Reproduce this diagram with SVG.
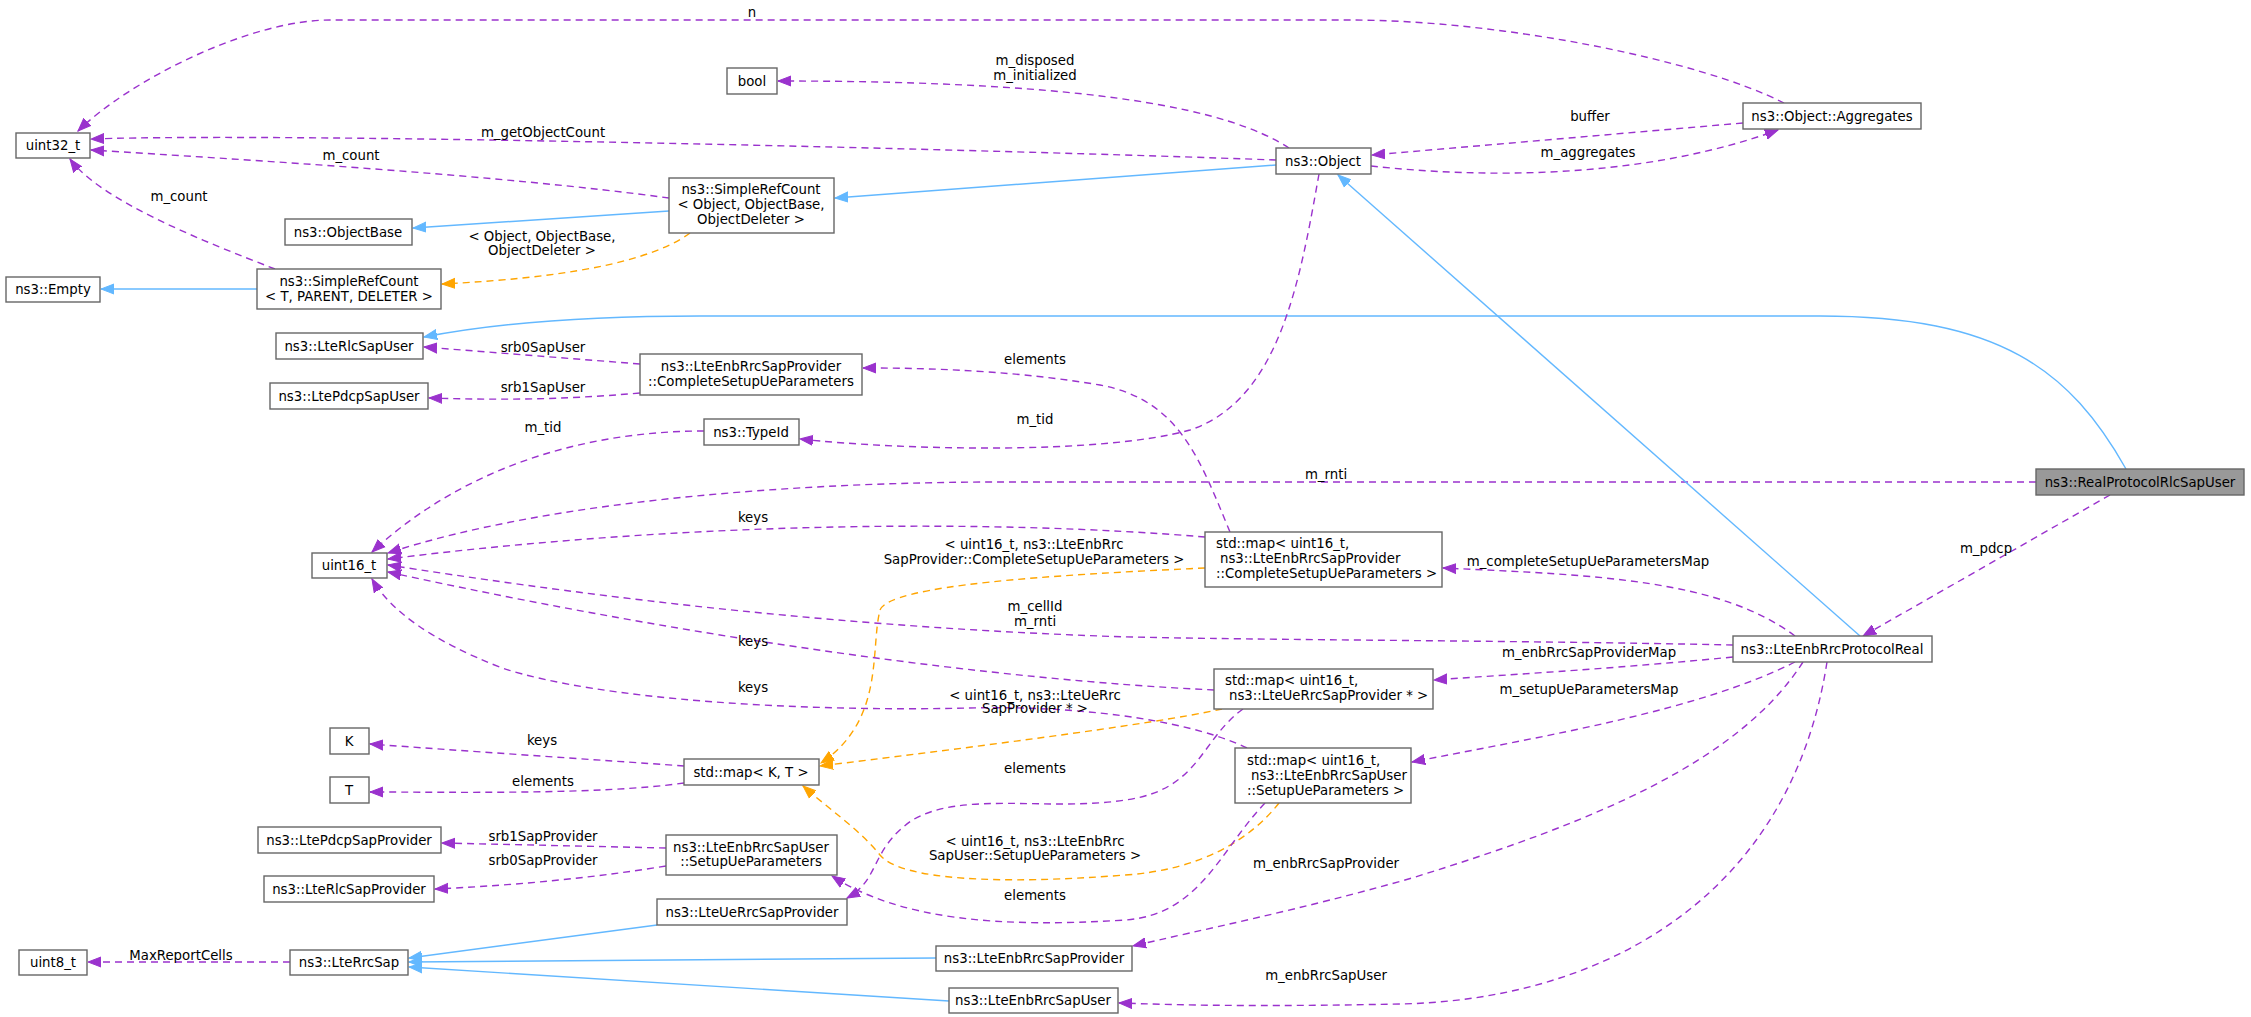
<svg xmlns="http://www.w3.org/2000/svg" width="2251" height="1017" viewBox="0 0 2251 1017">
<defs>
<style>
text{font-family:"DejaVu Sans","Liberation Sans",sans-serif;font-size:13.3px;fill:#000}
.n rect{fill:#fff;stroke:#666;stroke-width:1.4}
.n text{text-anchor:middle}
.l{text-anchor:middle}
.p{fill:none;stroke:#9a32cd;stroke-width:1.4;stroke-dasharray:7,5;marker-end:url(#mp)}
.o{fill:none;stroke:#ffa500;stroke-width:1.4;stroke-dasharray:7,5;marker-end:url(#mo)}
.b{fill:none;stroke:#63b8ff;stroke-width:1.4;marker-end:url(#mb)}
</style>
<marker id="mp" markerWidth="14" markerHeight="12" refX="13" refY="6" orient="auto" markerUnits="userSpaceOnUse"><path d="M0,1 L13,6 L0,11 Z" fill="#9a32cd" stroke="#9a32cd"/></marker>
<marker id="mo" markerWidth="14" markerHeight="12" refX="13" refY="6" orient="auto" markerUnits="userSpaceOnUse"><path d="M0,1 L13,6 L0,11 Z" fill="#ffa500" stroke="#ffa500"/></marker>
<marker id="mb" markerWidth="14" markerHeight="12" refX="13" refY="6" orient="auto" markerUnits="userSpaceOnUse"><path d="M0,1 L13,6 L0,11 Z" fill="#63b8ff" stroke="#63b8ff"/></marker>
</defs>
<rect width="2251" height="1017" fill="#fff"/>
<g id="edges">
<path class="p" d="M1784,103 C1700,60 1500,20 1350,20 L330,20 C250,20 130,80 78,131"/>
<text class="l" x="752" y="17">n</text>
<path class="p" d="M1289,148 C1230,110 1100,81 778,81"/>
<text class="l" x="1035" y="65">m_disposed</text><text class="l" x="1035" y="80">m_initialized</text>
<path class="p" d="M1276,160 C1000,150 300,132 91,139"/>
<text class="l" x="543" y="137">m_getObjectCount</text>
<path class="p" d="M669,198 C500,175 250,160 91,150"/>
<text class="l" x="351" y="160">m_count</text>
<path class="p" d="M275,269 C200,240 100,200 70,159"/>
<text class="l" x="179" y="201">m_count</text>
<path class="b" d="M1276,165 L835,198"/>
<path class="b" d="M669,211 L413,228"/>
<path class="o" d="M690,233 C640,270 520,280 442,284"/>
<text class="l" x="542" y="241">&lt; Object, ObjectBase,</text><text class="l" x="542" y="255">ObjectDeleter &gt;</text>
<path class="b" d="M257,289 L101,289"/>
<path class="p" d="M1743,123 L1372,155"/>
<text class="l" x="1590" y="121">buffer</text>
<path class="p" d="M1371,166 C1480,178 1640,180 1778,130"/>
<text class="l" x="1588" y="157">m_aggregates</text>
<path class="b" d="M2126,469 C2070,370 2000,316 1820,316 L700,316 C560,316 480,326 424,337"/>
<path class="p" d="M640,364 L424,347"/>
<text class="l" x="543" y="352">srb0SapUser</text>
<path class="p" d="M640,393 C560,400 500,400 429,398"/>
<text class="l" x="543" y="392">srb1SapUser</text>
<path class="p" d="M1230,532 C1200,460 1180,400 1100,385 C1000,368 900,368 863,368"/>
<text class="l" x="1035" y="364">elements</text>
<path class="p" d="M1319,174 C1300,280 1280,400 1190,430 C1100,455 900,450 800,439"/>
<text class="l" x="1035" y="424">m_tid</text>
<path class="p" d="M704,431 C580,431 460,470 372,552"/>
<text class="l" x="543" y="432">m_tid</text>
<path class="p" d="M2036,482 L1000,482 C800,482 550,500 388,553"/>
<text class="l" x="1326" y="479">m_rnti</text>
<path class="p" d="M1205,537 C1000,520 700,520 388,559"/>
<text class="l" x="753" y="522">keys</text>
<path class="o" d="M1205,568 C1050,575 890,585 880,610 C870,650 885,720 821,763"/>
<text class="l" x="1034" y="549">&lt; uint16_t, ns3::LteEnbRrc</text><text class="l" x="1034" y="564">SapProvider::CompleteSetupUeParameters &gt;</text>
<path class="p" d="M1733,645 C1500,640 1200,640 1100,636 C800,625 550,590 388,565"/>
<text class="l" x="1035" y="611">m_cellId</text><text class="l" x="1035" y="626">m_rnti</text>
<path class="p" d="M1795,636 C1720,580 1600,575 1443,568"/>
<text class="l" x="1588" y="566">m_completeSetupUeParametersMap</text>
<path class="p" d="M1733,657 C1600,670 1500,675 1434,680"/>
<text class="l" x="1589" y="657">m_enbRrcSapProviderMap</text>
<path class="p" d="M1214,690 C1000,680 700,640 388,572"/>
<text class="l" x="753" y="646">keys</text>
<path class="p" d="M1247,748 C1200,725 1100,705 969,708 C800,712 600,700 502,668 C430,640 390,610 372,579"/>
<text class="l" x="753" y="692">keys</text>
<path class="o" d="M1222,709 C1150,725 950,750 820,766"/>
<text class="l" x="1035" y="700">&lt; uint16_t, ns3::LteUeRrc</text><text class="l" x="1035" y="713">SapProvider * &gt;</text>
<path class="p" d="M1795,662 C1700,710 1550,735 1412,762"/>
<text class="l" x="1589" y="694">m_setupUeParametersMap</text>
<path class="p" d="M684,766 C600,760 450,750 370,744"/>
<text class="l" x="542" y="745">keys</text>
<path class="p" d="M684,783 C600,795 450,792 370,792"/>
<text class="l" x="543" y="786">elements</text>
<path class="p" d="M1243,709 C1200,740 1200,790 1125,800 C1050,812 960,790 911,821 C870,850 880,880 847,898"/>
<text class="l" x="1035" y="773">elements</text>
<path class="o" d="M1279,803 C1250,840 1200,870 1125,875 C1000,885 900,880 880,855 C860,830 830,810 803,786"/>
<text class="l" x="1035" y="846">&lt; uint16_t, ns3::LteEnbRrc</text><text class="l" x="1035" y="860">SapUser::SetupUeParameters &gt;</text>
<path class="p" d="M1265,803 C1220,850 1200,915 1125,920 C1000,928 900,920 832,876"/>
<text class="l" x="1035" y="900">elements</text>
<path class="p" d="M666,848 L442,843"/>
<text class="l" x="543" y="841">srb1SapProvider</text>
<path class="p" d="M666,866 C580,880 500,886 435,889"/>
<text class="l" x="543" y="865">srb0SapProvider</text>
<path class="p" d="M1803,662 C1740,760 1600,820 1412,878 C1300,910 1200,930 1133,946"/>
<text class="l" x="1326" y="868">m_enbRrcSapProvider</text>
<path class="p" d="M1827,662 C1790,900 1600,1000 1400,1004 C1250,1007 1180,1005 1119,1003"/>
<text class="l" x="1326" y="980">m_enbRrcSapUser</text>
<path class="p" d="M2110,495 L1863,636"/>
<text class="l" x="1986" y="553">m_pdcp</text>
<path class="b" d="M1860,636 L1338,175"/>
<path class="b" d="M657,925 L409,958"/>
<path class="b" d="M936,958 L409,962"/>
<path class="b" d="M949,1001 L409,967"/>
<path class="p" d="M290,962 L88,962"/>
<text class="l" x="181" y="960">MaxReportCells</text>
</g>
<g id="uint32" class="n"><rect x="16" y="133" width="74" height="25"/><text x="53" y="150">uint32_t</text></g>
<g id="bool" class="n"><rect x="727" y="68" width="50" height="26"/><text x="752" y="86">bool</text></g>
<g id="object" class="n"><rect x="1276" y="148" width="95" height="26"/><text x="1323" y="166">ns3::Object</text></g>
<g id="aggregates" class="n"><rect x="1743" y="103" width="178" height="26"/><text x="1832" y="121">ns3::Object::Aggregates</text></g>
<g id="src_obj" class="n"><rect x="669" y="178" width="165" height="55"/><text x="751" y="194">ns3::SimpleRefCount</text><text x="751" y="209">&lt; Object, ObjectBase,</text><text x="751" y="224">ObjectDeleter &gt;</text></g>
<g id="objectbase" class="n"><rect x="285" y="219" width="127" height="26"/><text x="348" y="237">ns3::ObjectBase</text></g>
<g id="empty" class="n"><rect x="6" y="277" width="94" height="25"/><text x="53" y="294">ns3::Empty</text></g>
<g id="src_t" class="n"><rect x="257" y="269" width="184" height="40"/><text x="349" y="286">ns3::SimpleRefCount</text><text x="349" y="301">&lt; T, PARENT, DELETER &gt;</text></g>
<g id="rlcsapuser" class="n"><rect x="276" y="333" width="147" height="26"/><text x="349" y="351">ns3::LteRlcSapUser</text></g>
<g id="completesetup" class="n"><rect x="640" y="354" width="222" height="41"/><text x="751" y="371">ns3::LteEnbRrcSapProvider</text><text x="751" y="386">::CompleteSetupUeParameters</text></g>
<g id="pdcpsapuser" class="n"><rect x="270" y="383" width="158" height="26"/><text x="349" y="401">ns3::LtePdcpSapUser</text></g>
<g id="typeid" class="n"><rect x="704" y="419" width="95" height="26"/><text x="751" y="437">ns3::TypeId</text></g>
<g id="real" class="n"><rect x="2036" y="469" width="208" height="26" style="fill:#999"/><text x="2140" y="487">ns3::RealProtocolRlcSapUser</text></g>
<g id="uint16" class="n"><rect x="312" y="553" width="75" height="25"/><text x="349" y="570">uint16_t</text></g>
<g id="map_complete" class="n"><rect x="1205" y="532" width="237" height="55"/><text x="1216" y="548" style="text-anchor:start">std::map&lt; uint16_t,</text><text x="1220" y="563" style="text-anchor:start">ns3::LteEnbRrcSapProvider</text><text x="1216" y="578" style="text-anchor:start">::CompleteSetupUeParameters &gt;</text></g>
<g id="protocolreal" class="n"><rect x="1733" y="636" width="199" height="26"/><text x="1832" y="654">ns3::LteEnbRrcProtocolReal</text></g>
<g id="map_ue" class="n"><rect x="1214" y="669" width="219" height="40"/><text x="1225" y="685" style="text-anchor:start">std::map&lt; uint16_t,</text><text x="1229" y="700" style="text-anchor:start">ns3::LteUeRrcSapProvider * &gt;</text></g>
<g id="map_setup" class="n"><rect x="1235" y="748" width="176" height="55"/><text x="1247" y="765" style="text-anchor:start">std::map&lt; uint16_t,</text><text x="1251" y="780" style="text-anchor:start">ns3::LteEnbRrcSapUser</text><text x="1247" y="795" style="text-anchor:start">::SetupUeParameters &gt;</text></g>
<g id="K" class="n"><rect x="330" y="728" width="39" height="26"/><text x="349" y="746">K</text></g>
<g id="T" class="n"><rect x="330" y="777" width="39" height="26"/><text x="349" y="795">T</text></g>
<g id="mapKT" class="n"><rect x="684" y="759" width="135" height="26"/><text x="751" y="777">std::map&lt; K, T &gt;</text></g>
<g id="pdcpsapprov" class="n"><rect x="258" y="827" width="183" height="26"/><text x="349" y="845">ns3::LtePdcpSapProvider</text></g>
<g id="setupue" class="n"><rect x="666" y="835" width="171" height="40"/><text x="751" y="852">ns3::LteEnbRrcSapUser</text><text x="751" y="866">::SetupUeParameters</text></g>
<g id="rlcsapprov" class="n"><rect x="264" y="876" width="170" height="26"/><text x="349" y="894">ns3::LteRlcSapProvider</text></g>
<g id="uerrcsapprov" class="n"><rect x="657" y="899" width="190" height="26"/><text x="752" y="917">ns3::LteUeRrcSapProvider</text></g>
<g id="uint8" class="n"><rect x="19" y="950" width="68" height="25"/><text x="53" y="967">uint8_t</text></g>
<g id="lterrcsap" class="n"><rect x="290" y="950" width="118" height="25"/><text x="349" y="967">ns3::LteRrcSap</text></g>
<g id="enbrrcsapprov" class="n"><rect x="936" y="946" width="196" height="25"/><text x="1034" y="963">ns3::LteEnbRrcSapProvider</text></g>
<g id="enbrrcsapuser" class="n"><rect x="949" y="988" width="169" height="25"/><text x="1033" y="1005">ns3::LteEnbRrcSapUser</text></g>
</svg>
